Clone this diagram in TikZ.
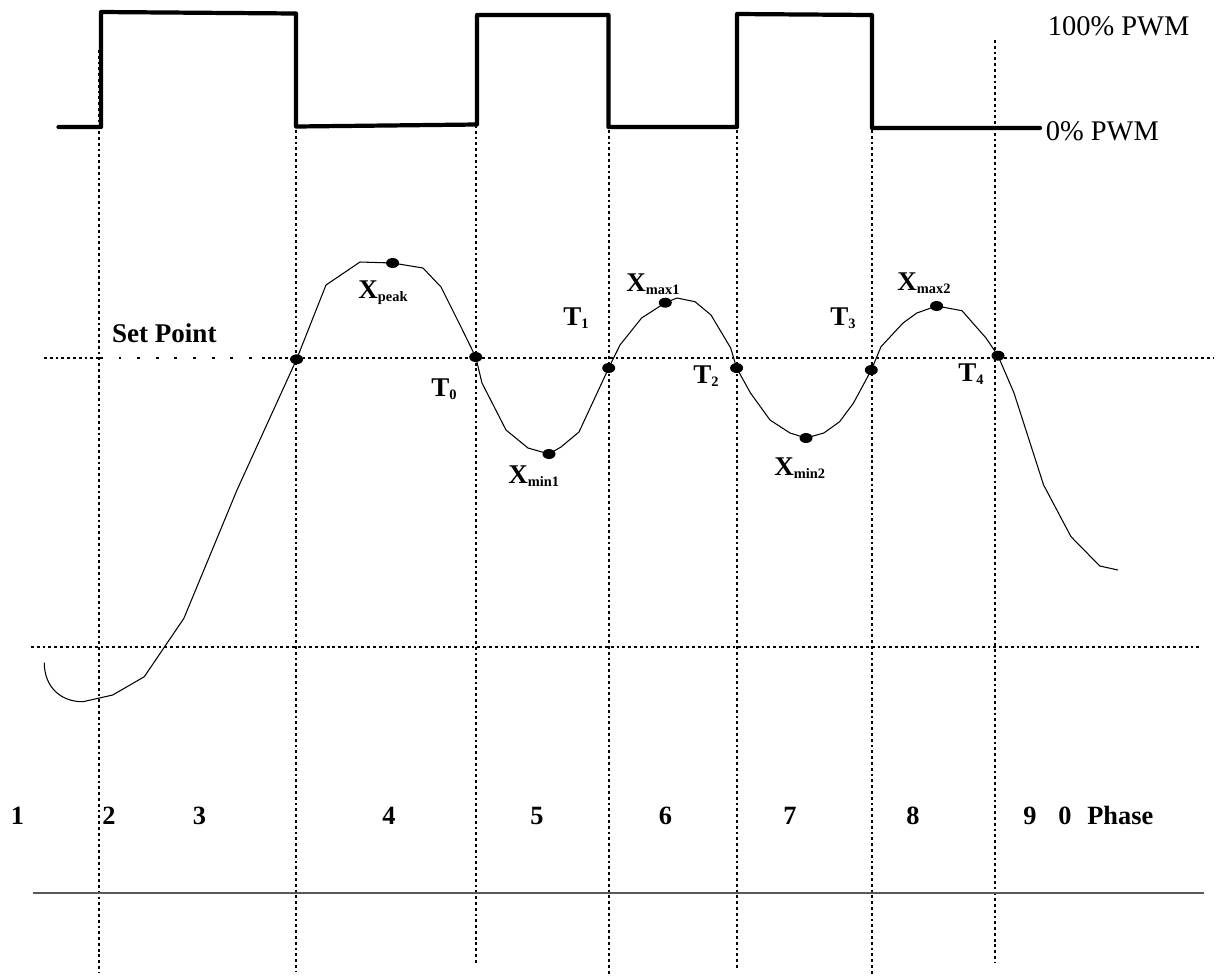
\documentclass[tikz,border=0pt]{standalone}
\usepackage{fontspec}
\setmainfont{Liberation Serif}
\newcommand{\subl}[2]{#1\raisebox{-1.8pt}{\fontsize{8.2}{9}\selectfont #2}}
\tikzset{
  dots/.style={line width=1.5pt, dash pattern=on 1.6pt off 1.7pt},
  sparsedots/.style={line width=1.5pt, dash pattern=on 1.6pt off 9pt},
  pwm/.style={line width=2.4pt, line join=round, line cap=round},
  resp/.style={line width=0.6pt, line join=round},
  lab/.style={inner sep=0pt, anchor=base west, font=\fontsize{15.4}{17}\selectfont\bfseries},
  phase/.style={inner sep=0pt, anchor=base, font=\fontsize{15}{17}\selectfont\bfseries},
  pwmlab/.style={inner sep=0pt, anchor=base west, font=\fontsize{16.2}{18}\selectfont},
  blob/.style={fill=black}
}
\begin{document}
\begin{tikzpicture}[x=0.02cm, y=-0.02cm]
\useasboundingbox (0,0) rectangle (1221,975);

% vertical dotted phase boundaries
\coordinate (v1t) at (99,50);   \coordinate (v1b) at (99,973);
\coordinate (v2t) at (296,130); \coordinate (v2b) at (296,971);
\coordinate (v3t) at (476,38);  \coordinate (v3b) at (476,963);
\coordinate (v4t) at (609,130); \coordinate (v4b) at (609,975);
\coordinate (v5t) at (737,130); \coordinate (v5b) at (737,970);
\coordinate (v6t) at (872,130); \coordinate (v6b) at (872,975);
\coordinate (v7t) at (995,40);  \coordinate (v7b) at (995,962);
\foreach \i in {1,...,7} \draw[dots] (v\i t) -- (v\i b);

% horizontal dotted lines
\coordinate (spL) at (44,358);  \coordinate (spA) at (100,358);
\coordinate (spB) at (262,358); \coordinate (spR) at (1214,358);
\draw[dots] (spL) -- (spA);
\draw[sparsedots] (spA) -- (spB);
\draw[dots] (spB) -- (spR);
\coordinate (loL) at (31,647); \coordinate (loR) at (1202,647);
\draw[dots] (loL) -- (loR);

% solid baseline
\coordinate (bL) at (33,893); \coordinate (bR) at (1204,893);
\draw[line width=1.3pt, black!65] (bL) -- (bR);

% PWM waveform
\coordinate (w0) at (58.5,127);
\coordinate (wEnd) at (1040,128);
\draw[pwm] (w0) -- (101,127) -- (101,12) -- (296,13.5) -- (296,126.5)
  -- (477,124.5) -- (477,15) -- (608.5,15) -- (608.5,127) -- (737,127)
  -- (737,14) -- (872,15) -- (872,128) -- (wEnd);
\node[pwmlab] (p100) at (1047.5,35) {100\% PWM};
\node[pwmlab] (p0) at (1045.5,140) {0\% PWM};

% response curve
\coordinate (c0) at (44.3,662.7);
\coordinate (d1) at (296.6,359.3);
\coordinate (d2) at (392.6,263);
\coordinate (d3) at (475.7,357);
\coordinate (d4) at (549,454);
\coordinate (d5) at (608.7,368);
\coordinate (d6) at (665.3,302.7);
\coordinate (d7) at (736.6,368);
\coordinate (d8) at (806,438);
\coordinate (d9) at (871.3,370);
\coordinate (d10) at (936.6,306);
\coordinate (d11) at (998,355.7);
\coordinate (cE) at (1118,570);
\draw[resp] (c0) .. controls (44.3,688) and (62,702) .. (83,701.7)
  -- (112.7,695) -- (144.3,676.7) -- (183.9,618.3) -- (237,490) -- (d1)
  -- (326,285) -- (360,262) -- (d2) -- (423,268) -- (441,287) -- (461,327)
  -- (d3) -- (482,383) -- (506,430) -- (528,448) -- (d4) -- (561,447)
  -- (579,432) -- (d5) -- (620,345) -- (641.6,318) -- (d6) -- (677,298)
  -- (695,301.7) -- (711,315) -- (730.7,348) -- (d7) -- (750.5,393)
  -- (770,420) -- (790,433) -- (d8) -- (823.8,433) -- (839.6,421.7)
  -- (853.5,403) -- (d9) -- (881,346.7) -- (903,323) -- (916.8,313)
  -- (d10) -- (962,310.7) -- (986,338) -- (d11) -- (1014,393)
  -- (1043.6,485) -- (1071,536.7) -- (1099.8,566) -- (cE);
\foreach \i in {1,...,11} \fill[blob] (d\i) ellipse [x radius=3.7pt, y radius=2.85pt];

% labels
\node[lab] (setp) at (111.7,342.7) {Set Point};
\node[lab] (xpeak) at (358,298) {\subl{X}{peak}};
\node[lab] (t0) at (431,396.7) {\subl{T}{0}};
\node[lab] (t1) at (563,325) {\subl{T}{1}};
\node[lab] (xmin1) at (508,483) {\subl{X}{min1}};
\node[lab] (xmax1) at (626,291.7) {\subl{X}{max1}};
\node[lab] (t2) at (693,383) {\subl{T}{2}};
\node[lab] (t3) at (830,325) {\subl{T}{3}};
\node[lab] (xmin2) at (774,475) {\subl{X}{min2}};
\node[lab] (xmax2) at (897,290) {\subl{X}{max2}};
\node[lab] (t4) at (958,381.7) {\subl{T}{4}};

% phase numbers
\node[phase] (ph1) at (17.5,824) {1};
\node[phase] (ph2) at (109,824) {2};
\node[phase] (ph3) at (199.5,824) {3};
\node[phase] (ph4) at (389,824) {4};
\node[phase] (ph5) at (537,824) {5};
\node[phase] (ph6) at (665.5,824) {6};
\node[phase] (ph7) at (790,824) {7};
\node[phase] (ph8) at (913,824) {8};
\node[phase] (ph9) at (1030,824) {9};
\node[phase] (ph0) at (1065,824) {0};
\node[phase, anchor=base west] (phz) at (1087,824) {Phase};
\end{tikzpicture}
\end{document}
